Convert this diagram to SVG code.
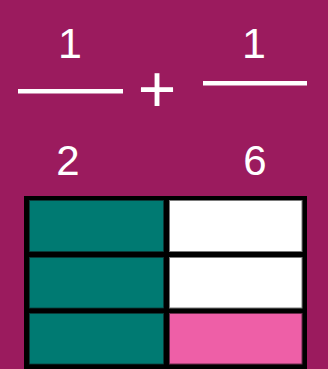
<svg xmlns="http://www.w3.org/2000/svg" width="328" height="369" viewBox="0 0 328 369">
  <style>
    .num { font-family: "Liberation Sans", Arial, sans-serif; fill: #ffffff; text-anchor: middle; }
    .bar { fill: #ffffff; }
    .teal { fill: #007A72; stroke: #0b3b38; stroke-width: 0.8; }
    .white { fill: #ffffff; stroke: #7a7a7a; stroke-width: 1; }
    .pink { fill: #EE5FA7; stroke: #6a2a4a; stroke-width: 1; }
  </style>
  <rect x="0" y="0" width="328" height="369" fill="#9B1B5E"/>

  <g id="fraction-left">
    <text class="num" x="70" y="58" font-size="43">1</text>
    <rect class="bar" x="18" y="89" width="105" height="4.5"/>
    <text class="num" x="68" y="175" font-size="42">2</text>
  </g>

  <g id="plus">
    <text class="num" x="157" y="112" font-size="66">+</text>
  </g>

  <g id="fraction-right">
    <text class="num" x="254" y="58" font-size="43">1</text>
    <rect class="bar" x="203" y="81" width="104" height="4.5"/>
    <text class="num" x="255" y="175" font-size="42">6</text>
  </g>

  <g id="grid">
    <rect x="24" y="196" width="283" height="173" fill="#000000"/>
    <rect class="teal" x="29.5" y="200.5" width="134" height="51"/>
    <rect class="white" x="169.5" y="200.5" width="132.5" height="51"/>
    <rect class="teal" x="29.5" y="257.5" width="134" height="50.5"/>
    <rect class="white" x="169.5" y="257.5" width="132.5" height="50.5"/>
    <rect class="teal" x="29.5" y="313.5" width="134" height="50.5"/>
    <rect class="pink" x="169.5" y="313.5" width="132.5" height="50.5"/>
  </g>
</svg>
